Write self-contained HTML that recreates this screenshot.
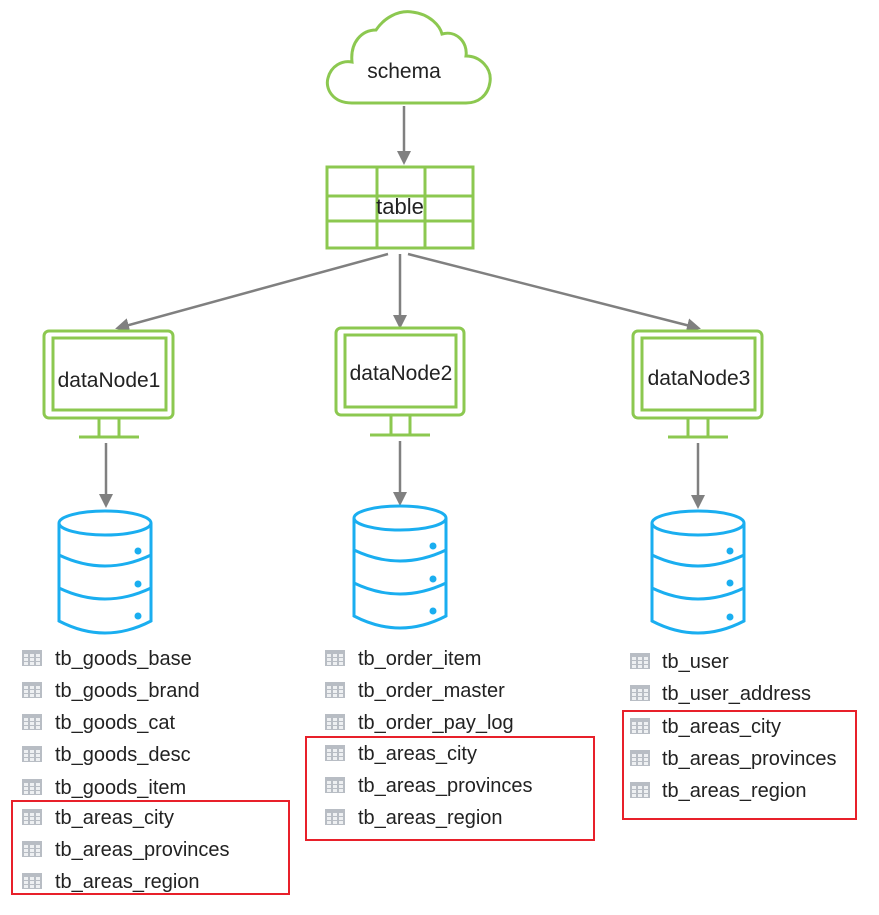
<!DOCTYPE html>
<html><head><meta charset="utf-8"><style>
html,body{margin:0;padding:0;background:#fff}
svg{display:block}
text{font-family:"Liberation Sans","DejaVu Sans",sans-serif}
</style></head><body>
<svg width="879" height="915" viewBox="0 0 879 915" xmlns="http://www.w3.org/2000/svg">
<defs>
<marker id="ah" markerWidth="14" markerHeight="14" refX="11" refY="7" orient="auto" markerUnits="userSpaceOnUse" viewBox="0 0 14 14">
<path d="M0,0 L14,7 L0,14 z" fill="#808080"/></marker>
<g id="ic">
<rect x="0" y="0" width="20" height="16" fill="#b8bdc4"/>
<g fill="#eef0f2">
<rect x="2" y="4" width="4" height="3"/><rect x="8" y="4" width="4" height="3"/><rect x="14" y="4" width="4" height="3"/>
<rect x="2" y="8" width="4" height="3"/><rect x="8" y="8" width="4" height="3"/><rect x="14" y="8" width="4" height="3"/>
<rect x="2" y="12" width="4" height="3"/><rect x="8" y="12" width="4" height="3"/><rect x="14" y="12" width="4" height="3"/>
</g></g>
</defs>

<!-- cloud -->
<path d="M352,103 C332,103 325,88 328,78 C331,66 342,60 352,62 C350,42 362,30 376,30 C384,18 398,10 412,12 C430,14 440,26 442,34 C456,30 468,42 466,56 C480,56 492,68 490,82 C488,96 478,103 466,103 Z" fill="#fff" stroke="#8cc850" stroke-width="3"/>
<text x="404" y="78" font-size="21" text-anchor="middle" fill="#222">schema</text>

<line x1="404" y1="106" x2="404" y2="162" stroke="#808080" stroke-width="2.5" marker-end="url(#ah)"/>

<!-- table -->
<g stroke="#8cc850" stroke-width="3" fill="none">
<rect x="327" y="167" width="146" height="81"/>
<line x1="377" y1="167" x2="377" y2="248"/><line x1="425" y1="167" x2="425" y2="248"/>
<line x1="327" y1="196" x2="473" y2="196"/><line x1="327" y1="221" x2="473" y2="221"/>
</g>
<text x="400" y="214" font-size="22" text-anchor="middle" fill="#222">table</text>

<g stroke="#808080" stroke-width="2.5" marker-end="url(#ah)">
<line x1="388" y1="254" x2="118" y2="328"/>
<line x1="400" y1="254" x2="400" y2="326"/>
<line x1="408" y1="254" x2="698" y2="328"/>
<line x1="106" y1="443" x2="106" y2="505"/>
<line x1="400" y1="441" x2="400" y2="503"/>
<line x1="698" y1="443" x2="698" y2="506"/>
</g>

<!-- monitors -->
<g stroke="#8cc850" stroke-width="3" fill="#fff">
<rect x="44" y="331" width="129" height="87" rx="5"/><rect x="53" y="338" width="113" height="72"/>
<line x1="99" y1="418" x2="99" y2="437"/><line x1="119" y1="418" x2="119" y2="437"/><line x1="79" y1="437" x2="139" y2="437"/>
<rect x="336" y="328" width="128" height="87" rx="5"/><rect x="345" y="335" width="111" height="72"/>
<line x1="391" y1="415" x2="391" y2="435"/><line x1="410" y1="415" x2="410" y2="435"/><line x1="370" y1="435" x2="430" y2="435"/>
<rect x="633" y="331" width="129" height="87" rx="5"/><rect x="642" y="338" width="113" height="72"/>
<line x1="688" y1="418" x2="688" y2="437"/><line x1="708" y1="418" x2="708" y2="437"/><line x1="668" y1="437" x2="728" y2="437"/>
</g>
<text x="109" y="387" font-size="21" text-anchor="middle" fill="#222">dataNode1</text>
<text x="401" y="380" font-size="21" text-anchor="middle" fill="#222">dataNode2</text>
<text x="699" y="385" font-size="21" text-anchor="middle" fill="#222">dataNode3</text>

<!-- databases -->
<g stroke="#1aaef0" stroke-width="3" fill="none">
<g transform="translate(105,511)">
<path d="M-46,12 L-46,110 Q0,134 46,110 L46,12"/><ellipse cx="0" cy="12" rx="46" ry="12"/>
<path d="M-46,44 Q0,66 46,44"/><path d="M-46,77 Q0,99 46,77"/>
</g>
<g transform="translate(400,506)">
<path d="M-46,12 L-46,110 Q0,134 46,110 L46,12"/><ellipse cx="0" cy="12" rx="46" ry="12"/>
<path d="M-46,44 Q0,66 46,44"/><path d="M-46,77 Q0,99 46,77"/>
</g>
<g transform="translate(698,511)">
<path d="M-46,12 L-46,110 Q0,134 46,110 L46,12"/><ellipse cx="0" cy="12" rx="46" ry="12"/>
<path d="M-46,44 Q0,66 46,44"/><path d="M-46,77 Q0,99 46,77"/>
</g>
</g>
<g fill="#1aaef0">
<circle cx="138" cy="551" r="3.5"/><circle cx="138" cy="584" r="3.5"/><circle cx="138" cy="616" r="3.5"/>
<circle cx="433" cy="546" r="3.5"/><circle cx="433" cy="579" r="3.5"/><circle cx="433" cy="611" r="3.5"/>
<circle cx="730" cy="551" r="3.5"/><circle cx="730" cy="583" r="3.5"/><circle cx="730" cy="617" r="3.5"/>
</g>

<!-- lists -->
<g font-size="20" fill="#222">
<use href="#ic" x="22" y="650"/><text x="55" y="665">tb_goods_base</text>
<use href="#ic" x="22" y="682"/><text x="55" y="697">tb_goods_brand</text>
<use href="#ic" x="22" y="714"/><text x="55" y="729">tb_goods_cat</text>
<use href="#ic" x="22" y="746"/><text x="55" y="761">tb_goods_desc</text>
<use href="#ic" x="22" y="779"/><text x="55" y="794">tb_goods_item</text>
<use href="#ic" x="22" y="809"/><text x="55" y="824">tb_areas_city</text>
<use href="#ic" x="22" y="841"/><text x="55" y="856">tb_areas_provinces</text>
<use href="#ic" x="22" y="873"/><text x="55" y="888">tb_areas_region</text>

<use href="#ic" x="325" y="650"/><text x="358" y="665">tb_order_item</text>
<use href="#ic" x="325" y="682"/><text x="358" y="697">tb_order_master</text>
<use href="#ic" x="325" y="714"/><text x="358" y="729">tb_order_pay_log</text>
<use href="#ic" x="325" y="745"/><text x="358" y="760">tb_areas_city</text>
<use href="#ic" x="325" y="777"/><text x="358" y="792">tb_areas_provinces</text>
<use href="#ic" x="325" y="809"/><text x="358" y="824">tb_areas_region</text>

<use href="#ic" x="630" y="653"/><text x="662" y="668">tb_user</text>
<use href="#ic" x="630" y="685"/><text x="662" y="700">tb_user_address</text>
<use href="#ic" x="630" y="718"/><text x="662" y="733">tb_areas_city</text>
<use href="#ic" x="630" y="750"/><text x="662" y="765">tb_areas_provinces</text>
<use href="#ic" x="630" y="782"/><text x="662" y="797">tb_areas_region</text>
</g>

<g fill="none" stroke="#e8202a" stroke-width="2">
<rect x="12" y="801" width="277" height="93"/>
<rect x="306" y="737" width="288" height="103"/>
<rect x="623" y="711" width="233" height="108"/>
</g>
</svg>
</body></html>
